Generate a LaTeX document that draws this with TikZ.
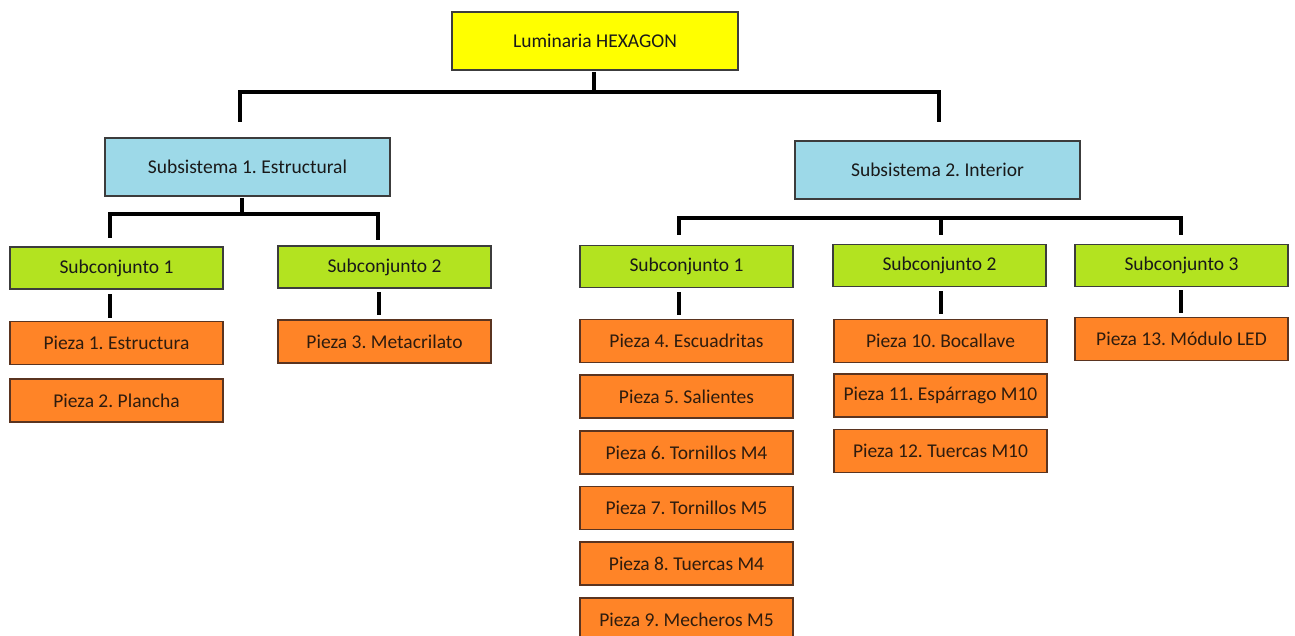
\documentclass[tikz,border=0pt]{standalone}
\usepackage{fontspec}
\setmainfont{Carlito}
\frenchspacing
\definecolor{cyel}{HTML}{FFFF00}
\definecolor{cblue}{HTML}{9DD9E8}
\definecolor{cgreen}{HTML}{B3E320}
\definecolor{corange}{HTML}{FF8427}
\definecolor{cbord}{HTML}{3C3C3C}
\definecolor{obord}{HTML}{5A3420}
\definecolor{otext}{HTML}{2E1C0E}
\begin{document}
\begin{tikzpicture}[x=1pt,y=-1pt,
  base/.style={draw=cbord,line width=1.2pt,inner sep=0pt,font=\fontsize{19.5}{22}\selectfont,text=black!90},
  topbox/.style={base,fill=cyel,minimum width=286pt,minimum height=58pt},
  subsys/.style={base,fill=cblue,minimum width=285pt,minimum height=58pt},
  subcj/.style={base,fill=cgreen,minimum width=213pt,minimum height=42pt},
  pieza/.style={base,draw=obord,fill=corange,text=otext,minimum width=213pt,minimum height=43pt},
  conn/.style={line width=4pt,black}]
\useasboundingbox (0,0) rectangle (1295,636);
\fill[white] (0,0) rectangle (1295,636);
% nodes
\node[topbox] (lum) at (595,41) {Luminaria HEXAGON};
\node[subsys] (ss1) at (247.5,167) {Subsistema 1. Estructural};
\node[subsys] (ss2) at (937.5,170) {Subsistema 2. Interior};
\node[subcj] (a1) at (116.5,268) {Subconjunto 1};
\node[subcj] (a2) at (384.5,267) {Subconjunto 2};
\node[subcj] (b1) at (686.5,266.5) {Subconjunto 1};
\node[subcj] (b2) at (939.5,265.5) {Subconjunto 2};
\node[subcj] (b3) at (1181.5,265.5) {Subconjunto 3};
\node[pieza] (p1) at (116.5,343) {Pieza 1. Estructura};
\node[pieza] (p2) at (116.5,400.5) {Pieza 2. Plancha};
\node[pieza] (p3) at (384.5,341.5) {Pieza 3. Metacrilato};
\node[pieza] (p4) at (686.5,341) {Pieza 4. Escuadritas};
\node[pieza] (p5) at (686.5,396.5) {Pieza 5. Salientes};
\node[pieza] (p6) at (686.5,452.5) {Pieza 6. Tornillos M4};
\node[pieza] (p7) at (686.5,508) {Pieza 7. Tornillos M5};
\node[pieza] (p8) at (686.5,563.5) {Pieza 8. Tuercas M4};
\node[pieza] (p9) at (686.5,619.5) {Pieza 9. Mecheros M5};
\node[pieza] (p10) at (940.5,341) {Pieza 10. Bocallave};
\node[pieza] (p11) at (940.5,395.5) {Pieza 11. Espárrago M10};
\node[pieza] (p12) at (940.5,451) {Pieza 12. Tuercas M10};
\node[pieza] (p13) at (1181.5,339) {Pieza 13. Módulo LED};
% top bus
\coordinate (tj) at (594,92);
\coordinate (tl) at (240,122);
\coordinate (tr) at (939,122);
\draw[conn] (594,72) -- (tj);
\draw[conn] (tl) |- (tj) -| (tr);
% left subsystem bus
\coordinate (lj) at (242,214);
\coordinate (ll) at (110,238);
\coordinate (lr) at (378,240);
\draw[conn] (242,198) -- (lj);
\draw[conn] (ll) |- (lj) -| (lr);
% right subsystem bus
\coordinate (rl) at (679,235);
\coordinate (rm) at (941,235);
\coordinate (rr) at (1181,235);
\draw[conn] (rl) |- (941,218) -| (rr);
\draw[conn] (941,218) -- (rm);
% ticks under subconjuntos
\draw[conn] (110,294) -- (110,318);
\draw[conn] (379,292) -- (379,315);
\draw[conn] (679,292) -- (679,315);
\draw[conn] (941,291) -- (941,314);
\draw[conn] (1181,290) -- (1181,313);
\end{tikzpicture}
\end{document}
